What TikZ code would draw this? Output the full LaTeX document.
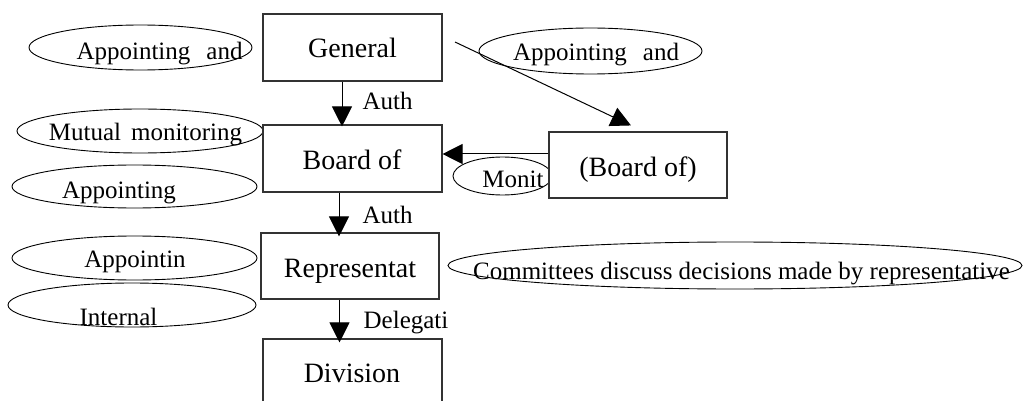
\documentclass[tikz,border=0pt]{standalone}
\usepackage{fontspec}
\setmainfont{Liberation Serif}
\usetikzlibrary{shapes.geometric,arrows.meta}
\tikzset{
  boxn/.style={draw=black!80, line width=1.1pt, fill=white, inner sep=0pt},
  ell/.style={draw=black, line width=0.9pt, ellipse, inner sep=0pt},
  txt/.style={inner sep=0pt, anchor=base, font=\fontsize{25}{30}\selectfont},
  btxt/.style={txt, font=\fontsize{28}{33}\selectfont},
  arr/.style={draw=black, line width=1pt, -{Triangle[width=20pt,length=20pt]}}
}
\begin{document}
\begin{tikzpicture}[x=1pt,y=-1pt]
\clip (0,0) rectangle (1023,401);
\fill[white] (0,0) rectangle (1023,401);
% ellipses
\node[ell, minimum width=223pt, minimum height=45pt] (e1) at (140.5,47.5) {};
\node[ell, minimum width=246pt, minimum height=44pt] (e2) at (140,131) {};
\node[ell, minimum width=245pt, minimum height=43pt] (e3) at (134.5,186.5) {};
\node[ell, minimum width=245pt, minimum height=44pt] (e4) at (134.5,258) {};
\node[ell, minimum width=248pt, minimum height=44pt] (e5) at (132,305) {};
\node[ell, minimum width=223pt, minimum height=46pt] (e6) at (590.5,51) {};
\node[ell, minimum width=99pt, minimum height=38pt] (e7) at (502.5,176) {};
\node[ell, minimum width=574pt, minimum height=47pt] (e8) at (735,265.5) {};
% boxes
\node[boxn, minimum width=179pt, minimum height=67pt] (gen) at (352.5,47.5) {};
\node[boxn, minimum width=179pt, minimum height=67pt] (board) at (352.5,158.5) {};
\node[boxn, minimum width=178pt, minimum height=66pt] (bof) at (638,165) {};
\node[boxn, minimum width=178pt, minimum height=66pt] (rep) at (350,266) {};
\node[boxn, minimum width=179pt, minimum height=80pt] (div) at (352.5,379) {};
% box texts
\node[btxt] (tgen) at (352.5,58) {General};
\node[btxt] (tboard) at (352,169) {Board of};
\node[btxt] (tbof) at (638,176) {(Board of)};
\node[btxt] (trep) at (350,277) {Representat};
\node[btxt] (tdiv) at (352,382) {Division};
% ellipse texts
\node[txt] (t1) at (159.5,60) {Appointing\hspace{16pt}and};
\node[txt] (t2) at (145.5,141) {Mutual\hspace{10pt}monitoring};
\node[txt] (t3) at (119,198) {Appointing};
\node[txt] (t4) at (135,267) {Appointin};
\node[txt] (t5) at (118.5,325) {Internal};
\node[txt] (t6) at (596,61) {Appointing\hspace{16pt}and};
\node[txt] (t7) at (513,187) {Monit};
\node[txt] (t8) at (741.5,279) {Committees discuss decisions made by representative};
% connectors
\draw[arr] ([xshift=-10.5pt]gen.south) -- ([xshift=-10.5pt,yshift=-2pt]board.north);
\draw[arr] ([xshift=-13.5pt]board.south) -- ([xshift=-11pt,yshift=-4pt]rep.north);
\draw[arr] ([xshift=-10.5pt]rep.south) -- ([xshift=-13pt,yshift=-4pt]div.north);
\draw[arr] ([yshift=11pt]bof.west) -- ([yshift=4.5pt]board.east);
\coordinate (s) at (455,42);
\draw[arr] (s) -- ([xshift=-7pt,yshift=6pt]bof.north);
% labels
\node[txt] (l1) at (387.5,110) {Auth};
\node[txt] (l2) at (387.5,223) {Auth};
\node[txt] (l3) at (406,328) {Delegati};
\end{tikzpicture}
\end{document}
